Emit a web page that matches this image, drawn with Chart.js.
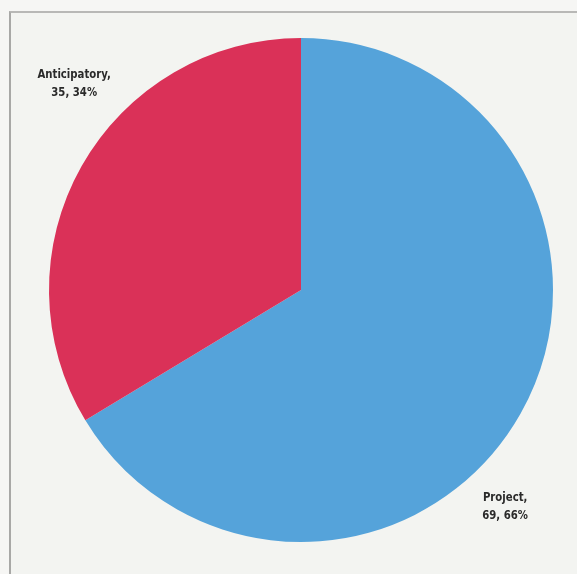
<!DOCTYPE html>
<html>
<head>
  <title>Pie chart</title>
  <script src="https://cdn.jsdelivr.net/npm/chart.js@4.4.0/dist/chart.umd.min.js"></script>
  <style>
    body { margin: 0; background: #f6f6f4; }
    #frame {
      position: absolute; left: 9px; top: 11px; width: 580px; height: 580px;
      border-left: 2px solid #a8a8a6; border-top: 2px solid #b8b8b6;
      background: #f3f4f1;
    }
    #wrap { position: absolute; left: 0; top: 0; width: 577px; height: 574px; }
  </style>
</head>
<body>
  <div id="frame"></div>
  <div id="wrap"><canvas id="pieChart"></canvas></div>

  <script>
    // data
    const categories = ['Project', 'Anticipatory'];
    const counts = [69, 35];
    const percents = [66, 34];
    const colors = ['#55a3da', '#da3158'];
    // where each label sits, as a fraction of the radius from the centre
    const labelSpots = [[0.81, 0.86], [-0.90, -0.82]];

    const sliceLabels = {
      id: 'sliceLabels',
      afterDraw(chart) {
        const ctx = chart.ctx;
        const arcs = chart.getDatasetMeta(0).data;
        const squeeze = 0.78; // narrow face, like the original condensed type
        arcs.forEach((arc, i) => {
          const x = arc.x + arc.outerRadius * labelSpots[i][0];
          const y = arc.y + arc.outerRadius * labelSpots[i][1];
          ctx.save();
          ctx.translate(x, y);
          ctx.scale(squeeze, 1);
          ctx.fillStyle = '#2a2a2a';
          ctx.font = 'bold 13px "DejaVu Sans", sans-serif';
          ctx.textAlign = 'center';
          ctx.textBaseline = 'middle';
          ctx.fillText(categories[i] + ',', 0, -9);
          ctx.fillText(counts[i] + ', ' + percents[i] + '%', 0, 9);
          ctx.restore();
        });
      }
    };

    const ctx = document.getElementById('pieChart').getContext('2d');
    new Chart(ctx, {
      type: 'pie',
      data: {
        labels: categories,
        datasets: [{
          data: counts,
          backgroundColor: colors,
          borderWidth: 0
        }]
      },
      options: {
        responsive: true,
        maintainAspectRatio: false,
        animation: false,
        layout: { padding: { left: 49, right: 24, top: 38, bottom: 32 } },
        plugins: {
          legend: { display: false },
          tooltip: { enabled: false }
        }
      },
      plugins: [sliceLabels]
    });
  </script>
</body>
</html>
